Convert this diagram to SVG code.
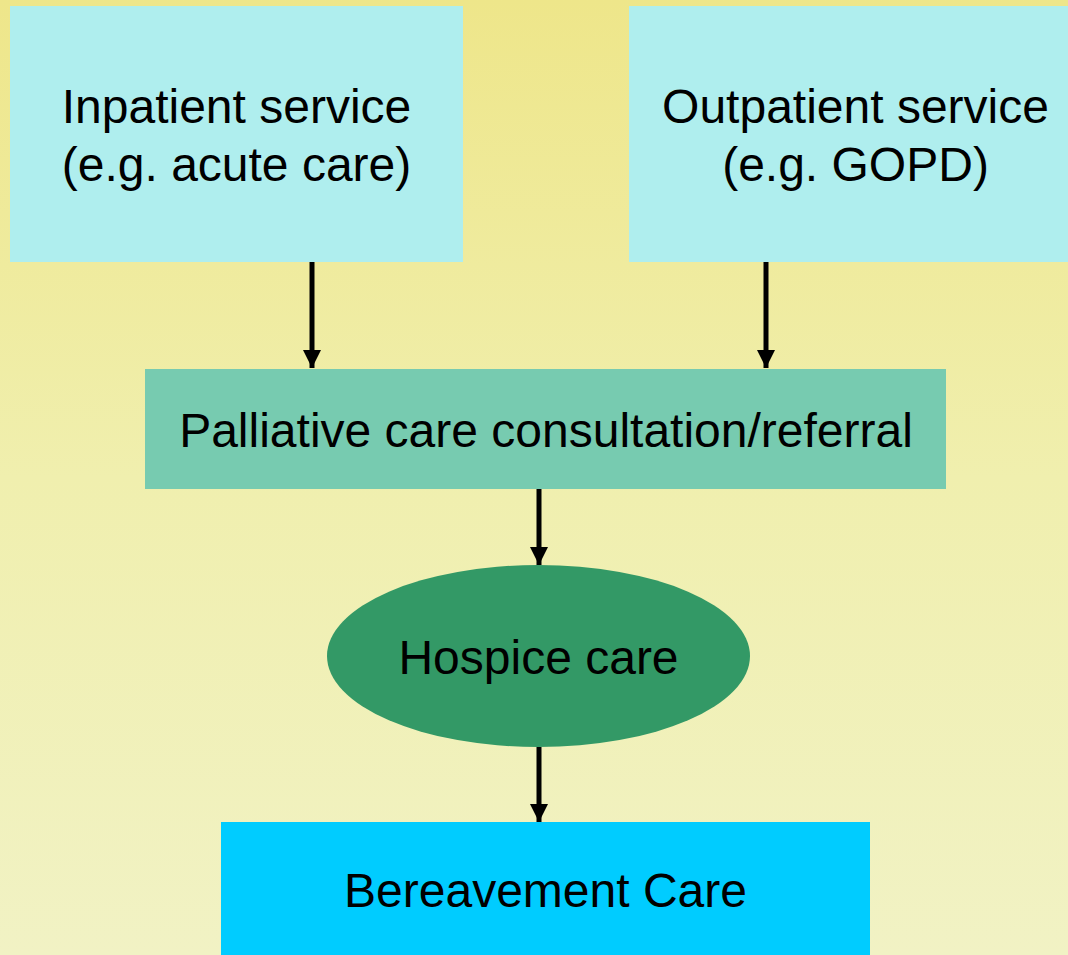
<svg xmlns="http://www.w3.org/2000/svg" width="1068" height="955" viewBox="0 0 1068 955">
<style>
.t{font-family:"Liberation Sans",Arial,sans-serif;font-size:48px;fill:#000;text-anchor:middle}
.c{stroke:#000;stroke-width:5;fill:none}
</style>
<defs>
<linearGradient id="bg" x1="0" y1="0" x2="0" y2="1">
<stop offset="0" stop-color="#EEE68A"/>
<stop offset="0.5" stop-color="#F0EFAE"/>
<stop offset="1" stop-color="#F1F2C4"/>
</linearGradient>
<marker id="ah" viewBox="0 0 18 18" refX="18" refY="9" markerWidth="18" markerHeight="18" markerUnits="userSpaceOnUse" orient="auto">
<path d="M0,0 L18,9 L0,18 Z" fill="#000"/>
</marker>
</defs>
<rect x="0" y="0" width="1068" height="955" fill="url(#bg)"/>
<g id="connectors">
<line class="c" x1="312" y1="262" x2="312" y2="368" marker-end="url(#ah)"/>
<line class="c" x1="766" y1="262" x2="766" y2="368" marker-end="url(#ah)"/>
<line class="c" x1="539" y1="489" x2="539" y2="565" marker-end="url(#ah)"/>
<line class="c" x1="539" y1="747" x2="539" y2="822" marker-end="url(#ah)"/>
</g>
<g id="inpatient">
<rect x="10" y="6" width="453" height="256" fill="#AFEEEE"/>
<text class="t" x="236.5" y="123">Inpatient service</text>
<text class="t" x="236.5" y="181">(e.g. acute care)</text>
</g>
<g id="outpatient">
<rect x="629" y="6" width="453" height="256" fill="#AFEEEE"/>
<text class="t" x="855.5" y="123">Outpatient service</text>
<text class="t" x="855.5" y="181">(e.g. GOPD)</text>
</g>
<g id="palliative">
<rect x="145" y="369" width="801" height="120" fill="#77CBB0"/>
<text class="t" x="546" y="447">Palliative care consultation/referral</text>
</g>
<g id="hospice">
<ellipse cx="538.5" cy="656" rx="211.5" ry="91" fill="#339966"/>
<text class="t" x="538.5" y="674">Hospice care</text>
</g>
<g id="bereavement">
<rect x="221" y="822" width="649" height="140" fill="#00CCFF"/>
<text class="t" x="545.5" y="907">Bereavement Care</text>
</g>
</svg>
